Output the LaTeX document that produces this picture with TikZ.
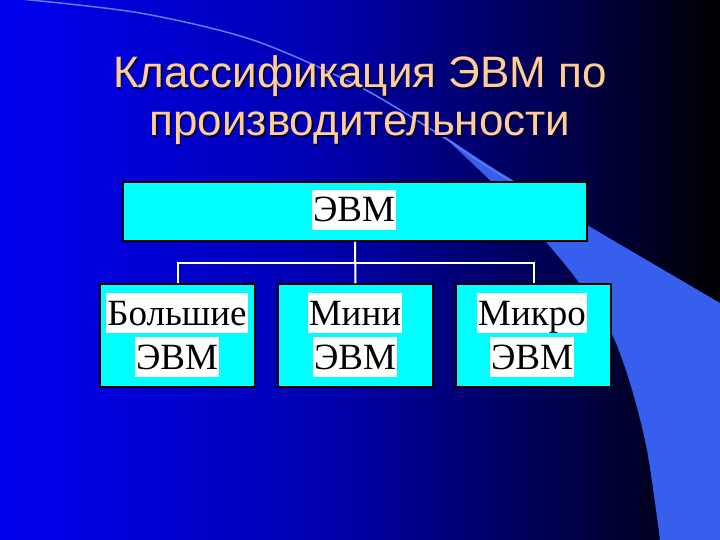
\documentclass[tikz,border=0pt]{standalone}
\usepackage{fontspec}
\setmainfont{Liberation Serif}
\newfontfamily\titlefont{Liberation Sans}
\definecolor{bgA}{RGB}{0,0,240}
\definecolor{bgB}{RGB}{0,0,175}
\definecolor{bgC}{RGB}{0,0,70}
\definecolor{bgD}{RGB}{0,0,0}
\definecolor{bandc}{RGB}{55,95,238}
\definecolor{arcc}{RGB}{95,125,245}
\definecolor{boxcyan}{RGB}{0,255,255}
\definecolor{titlec}{RGB}{255,206,150}
\definecolor{shadowc}{RGB}{0,0,60}
\pgfdeclarehorizontalshading{bgshade}{100bp}{color(0bp)=(bgA); color(25bp)=(bgA); color(47.5bp)=(bgB); color(65bp)=(bgC); color(75bp)=(bgD); color(100bp)=(bgD)}
\tikzset{
  box/.style={draw=black, line width=1.5pt, fill=boxcyan, inner sep=0pt},
  lbl/.style={fill=white, inner xsep=1pt, inner ysep=0pt, text height=32pt, text depth=8pt, anchor=base, font=\fontsize{37}{37}\selectfont},
  ttl/.style={anchor=base, inner sep=0pt, font=\titlefont\fontsize{44}{44}\selectfont},
  conn/.style={draw=white, line width=2pt}
}
\begin{document}
\begin{tikzpicture}[x=1pt,y=-1pt]
\useasboundingbox (0,0) rectangle (720,540);
\shade[shading=bgshade] (0,0) rectangle (720,540);
% decorative band
\fill[bandc] plot[smooth] coordinates {(440,133) (493,168) (587,225) (720,303)} -- (720,540) -- (660,540) -- plot[smooth] coordinates {(660,540) (647,450) (630,383) (610,330) (577,280) (547,243) (505,195) (440,133)} -- cycle;
\draw[arcc, line width=1.5pt] plot[smooth] coordinates {(20,-1) (140,13) (253,40) (360,87) (440,135) (493,170) (587,225)};
% title
\node[ttl, text=shadowc] (t1s) at (361.5,89.5) {Классификация ЭВМ по};
\node[ttl, text=titlec] (t1) at (360,88) {Классификация ЭВМ по};
\node[ttl, text=shadowc] (t2s) at (361.5,137.5) {производительности};
\node[ttl, text=titlec] (t2) at (360,136) {производительности};
% boxes
\node[box, minimum width=464pt, minimum height=59pt] (top) at (355,211.5) {};
\node[box, minimum width=155pt, minimum height=103pt] (b1) at (177.5,335.5) {};
\node[box, minimum width=155pt, minimum height=103pt] (b2) at (355.5,335.5) {};
\node[box, minimum width=155pt, minimum height=103pt] (b3) at (533.5,335.5) {};
% labels
\node[lbl] (ltop) at (354,222) {ЭВМ};
\node[lbl] (l1a) at (177,325) {Большие};
\node[lbl] (l1b) at (177,369) {ЭВМ};
\node[lbl] (l2a) at (355,325) {Мини};
\node[lbl] (l2b) at (355,369) {ЭВМ};
\node[lbl] (l3a) at (532,325) {Микро};
\node[lbl] (l3b) at (532,369) {ЭВМ};
% connectors
\coordinate (j) at (355,263);
\draw[conn] (top.south) -- (b2.north);
\draw[conn] (b1.north) |- (j) -| (b3.north);
\end{tikzpicture}
\end{document}
